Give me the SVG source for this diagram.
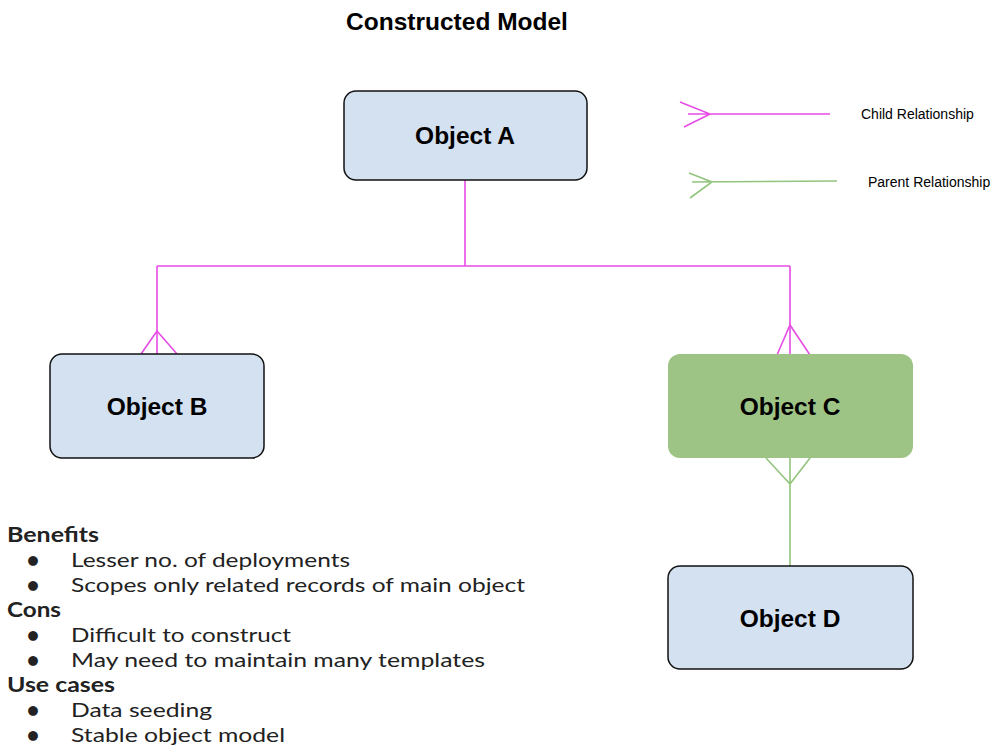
<svg xmlns="http://www.w3.org/2000/svg" width="1004" height="756" viewBox="0 0 1004 756">
<style>
.node{fill:#d4e1f0;stroke:#111;stroke-width:1.5}
.green{fill:#9dc385}
.lbl{font-family:"Liberation Sans",Arial,sans-serif;font-weight:bold;font-size:24.5px;text-anchor:middle;fill:#000}
.mag{stroke:#e64ce6;stroke-width:1.6;fill:none}
.grn{stroke:#93c47d;stroke-width:1.6;fill:none}
.leg{font-family:"Liberation Sans",Arial,sans-serif;font-size:14px;fill:#000}
.h{font-family:Lato,"Liberation Sans",sans-serif;font-weight:bold;font-size:20px;fill:#222}
.t{font-family:Lato,"Liberation Sans",sans-serif;font-size:20px;fill:#222}
</style>
<rect width="1004" height="756" fill="#fff"/>
<text x="457" y="30" class="lbl">Constructed Model</text>
<g id="connectors">
<path class="mag" d="M465,180 V266 M157,266 H790 M157,266 V354 M790,266 V354"/>
<path class="mag" d="M141,354 L157,331 L177,354 M777,355 L790,325 L810,355"/>
<path class="grn" d="M790,458 V566 M766,458 L790,484 L810,458"/>
</g>
<g id="legend-child">
<path class="mag" d="M688,114 H830 M680,102 L710,114 L684,127"/>
<text x="861" y="119" class="leg">Child Relationship</text>
</g>
<g id="legend-parent">
<path class="grn" d="M692,182 L837,181 M689,173 L712,182 L690,198"/>
<text x="868" y="187" class="leg">Parent Relationship</text>
</g>
<g id="objA"><rect class="node" x="344" y="91" width="243" height="89" rx="12"/><text class="lbl" x="465" y="144">Object A</text></g>
<g id="objB"><rect class="node" x="50" y="354" width="214" height="104" rx="12"/><text class="lbl" x="157" y="415">Object B</text></g>
<g id="objC"><rect class="green" x="668" y="354" width="245" height="104" rx="12"/><text class="lbl" x="790" y="415">Object C</text></g>
<g id="objD"><rect class="node" x="668" y="566" width="245" height="103" rx="12"/><text class="lbl" x="790" y="627">Object D</text></g>
<g id="notes">
<text class="h" x="7" y="542" textLength="92" lengthAdjust="spacingAndGlyphs">Benefits</text>
<text class="t" x="27" y="567">●</text><text class="t" x="71" y="567" textLength="279" lengthAdjust="spacingAndGlyphs">Lesser no. of deployments</text>
<text class="t" x="27" y="592">●</text><text class="t" x="71" y="592" textLength="454" lengthAdjust="spacingAndGlyphs">Scopes only related records of main object</text>
<text class="h" x="7" y="617" textLength="54" lengthAdjust="spacingAndGlyphs">Cons</text>
<text class="t" x="27" y="642">●</text><text class="t" x="71" y="642" textLength="220" lengthAdjust="spacingAndGlyphs">Difficult to construct</text>
<text class="t" x="27" y="667">●</text><text class="t" x="71" y="667" textLength="414" lengthAdjust="spacingAndGlyphs">May need to maintain many templates</text>
<text class="h" x="7" y="692" textLength="108" lengthAdjust="spacingAndGlyphs">Use cases</text>
<text class="t" x="27" y="717">●</text><text class="t" x="71" y="717" textLength="141" lengthAdjust="spacingAndGlyphs">Data seeding</text>
<text class="t" x="27" y="742">●</text><text class="t" x="71" y="742" textLength="214" lengthAdjust="spacingAndGlyphs">Stable object model</text>
</g>
</svg>
